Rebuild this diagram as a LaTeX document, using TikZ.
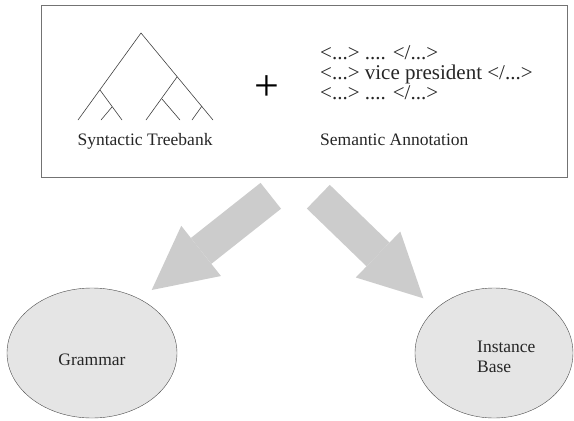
\documentclass[tikz,border=0pt]{standalone}
\usepackage{fontspec}
\setmainfont{Liberation Serif}
\usetikzlibrary{arrows.meta,shapes.geometric}

\begin{document}
\begin{tikzpicture}[x=1pt,y=-1pt,
        lbl/.style={font=\fontsize{17.5}{20}\selectfont, text=black!85, inner sep=0pt},
        tag/.style={font=\fontsize{21}{20}\selectfont, text=black!85, inner sep=0pt, align=left},
        store/.style={ellipse, draw=black!70, fill=black!10, inner sep=0pt},
        bigarrow/.style={line width=33pt, draw=black!20, -{Triangle[length=63pt,width=64pt,line width=0pt]}}]
            \useasboundingbox (0,0) rectangle (574,421);

            % input panel
            \node[draw=black!55, minimum width=526pt, minimum height=172pt, inner sep=0pt, anchor=north west] (panel) at (41,5) {};

            % small parse tree
            \draw[black!75, line width=0.6pt] (78,120) -- (141,33) -- (213,120);
            \draw[black!75, line width=0.6pt] (100,90) -- (122,120);
            \draw[black!75, line width=0.6pt] (112,107) -- (101,120);
            \draw[black!75, line width=0.6pt] (177,77) -- (146,120);
            \draw[black!75, line width=0.6pt] (162,99) -- (180,120);
            \draw[black!75, line width=0.6pt] (202,106) -- (192,120);
            \node[lbl, anchor=base] (treelbl) at (145,145) {Syntactic Treebank};

            \node[font=\fontsize{44}{44}\selectfont, inner sep=0pt] (plus) at (266.5,88) {+};

            % annotated text
            \node[tag, anchor=west] (tags) at (320,73) {<...> .... </...>\\<...> vice president </...>\\<...> .... </...>};
            \node[lbl, anchor=base west] (semlbl) at (320,145) {Semantic Annotation};

            % outputs
            \node[store, minimum width=170pt, minimum height=130pt] (grammar) at (92,353) {};
            \node[lbl, anchor=base] (gramlbl) at ([yshift=-12pt]grammar.center) {Grammar};
            \node[store, minimum width=158pt, minimum height=130pt] (inst) at (494,353) {};
            \node[lbl, align=left, anchor=west] (instlbl) at (477,357) {Instance\\Base};

            % block arrows
            \coordinate (ltail) at (270.8,195.8);
            \coordinate (ltip) at (151.7,290);
            \coordinate (rtail) at (318.3,196.7);
            \coordinate (rtip) at (423.3,298.3);
            \draw[bigarrow] (ltail) -- (ltip);
            \draw[bigarrow] (rtail) -- (rtip);
        \end{tikzpicture}
\end{document}
